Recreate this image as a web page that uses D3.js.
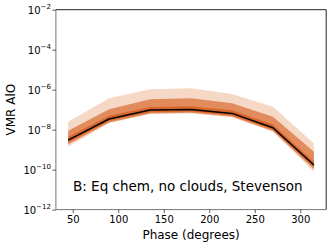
<!DOCTYPE html>
<html>
<head>
<meta charset="utf-8">
<script src="https://cdn.jsdelivr.net/npm/d3@7"></script>
<style>
  html, body { margin: 0; padding: 0; background: #fff; }
  svg { display: block; font-family: "DejaVu Sans", sans-serif; }
</style>
</head>
<body>
<svg id="chart" width="332" height="247"></svg>
<script>
// ---- data ----
const phases = [45, 90, 135, 180, 225, 270, 315];
const median = [3.0e-9, 3.4e-8, 9.5e-8, 1.03e-7, 6.5e-8, 1.24e-8, 1.7e-10];
const upper3 = [2.5e-8, 3.7e-7, 1.04e-6, 1.16e-6, 6.0e-7, 1.4e-7, 2.05e-9];
const upper2 = [8.8e-9, 1.04e-7, 3.3e-7, 3.7e-7, 2.07e-7, 4.4e-8, 7.8e-10];
const upper1 = [4.3e-9, 4.9e-8, 1.37e-7, 1.48e-7, 9.4e-8, 1.8e-8, 2.45e-10];
const lower1 = [2.3e-9, 2.7e-8, 7.5e-8, 8.1e-8, 5.1e-8, 9.8e-9, 1.3e-10];
const lower2 = [1.85e-9, 2.3e-8, 6.5e-8, 7.0e-8, 4.5e-8, 8.5e-9, 1.05e-10];
const lower3 = [1.4e-9, 2.06e-8, 6.0e-8, 6.5e-8, 4.1e-8, 7.8e-9, 7.8e-11];
const xTicks = [50, 100, 150, 200, 250, 300];
const yTickExps = [-2, -4, -6, -8, -10, -12];
const annotation = "B: Eq chem, no clouds, Stevenson";
const xLabel = "Phase (degrees)";
const yLabel = "VMR AlO";

// ---- layout ----
const pL = 55.9, pR = 326.2, pT = 9.7, pB = 209.6;
const svg = d3.select("#chart");

const x = d3.scaleLinear().domain([31.5, 328.5]).range([pL, pR]);
const y = d3.scaleLog().domain([1e-12, 1e-2]).range([pB, pT]);

const idx = d3.range(phases.length);
const band = (lo, hi) => d3.area()
  .x(i => x(phases[i]))
  .y0(i => y(lo[i]))
  .y1(i => y(hi[i]));

svg.append("path").attr("d", band(lower3, upper3)(idx)).attr("fill", "#f6d8c6");
svg.append("path").attr("d", band(lower2, upper2)(idx)).attr("fill", "#e28c5d");
svg.append("path").attr("d", band(lower1, upper1)(idx)).attr("fill", "#d8662c");

svg.append("path")
  .attr("d", d3.line().x(i => x(phases[i])).y(i => y(median[i]))(idx))
  .attr("fill", "none").attr("stroke", "#000").attr("stroke-width", 1.5)
  .attr("stroke-linejoin", "round");

// ---- spines ----
svg.append("line").attr("x1", pL).attr("x2", pR).attr("y1", pT).attr("y2", pT)
  .attr("stroke", "#222").attr("stroke-width", 1);
svg.append("line").attr("x1", pR).attr("x2", pR).attr("y1", pT).attr("y2", pB)
  .attr("stroke", "#222").attr("stroke-width", 1);
svg.append("line").attr("x1", pL).attr("x2", pL).attr("y1", pT).attr("y2", pB)
  .attr("stroke", "#777").attr("stroke-width", 1);
svg.append("line").attr("x1", pL).attr("x2", pR).attr("y1", pB).attr("y2", pB)
  .attr("stroke", "#777").attr("stroke-width", 1);

// ---- x axis ----
const xAxis = d3.axisBottom(x).tickValues(xTicks).tickSize(3.5).tickPadding(3).tickFormat(d3.format("d"));
const gx = svg.append("g").attr("transform", `translate(0,${pB})`).call(xAxis);
gx.select(".domain").remove();
gx.selectAll(".tick line").attr("stroke", "#333").attr("stroke-width", 0.8);
gx.selectAll(".tick text").attr("fill", "#000").attr("font-size", 10)
  .attr("font-family", "DejaVu Sans, sans-serif");

// ---- y axis ----
const yAxis = d3.axisLeft(y).tickValues(yTickExps.map(e => Math.pow(10, e))).tickSize(3.5).tickPadding(3).tickFormat(() => "");
const gy = svg.append("g").attr("transform", `translate(${pL},0)`).call(yAxis);
gy.select(".domain").remove();
gy.selectAll(".tick line").attr("stroke", "#333").attr("stroke-width", 0.8);
gy.selectAll(".tick text").remove();
gy.selectAll(".tick").each(function(d) {
  const e = Math.round(Math.log10(d));
  const t = d3.select(this).append("text")
    .attr("x", -5).attr("y", 3.6)
    .attr("text-anchor", "end")
    .attr("font-size", 10).attr("fill", "#000")
    .attr("font-family", "DejaVu Sans, sans-serif");
  t.append("tspan").text("10");
  t.append("tspan").attr("dy", -4.5).attr("font-size", 7).text("\u2212" + Math.abs(e));
});

// ---- labels ----
svg.append("text").attr("x", (pL + pR) / 2).attr("y", 238.5)
  .attr("text-anchor", "middle").attr("font-size", 12).attr("fill", "#000").text(xLabel);
svg.append("text").attr("transform", `translate(15,${(pT + pB) / 2}) rotate(-90)`)
  .attr("text-anchor", "middle").attr("font-size", 12).attr("fill", "#000").text(yLabel);
svg.append("text").attr("x", 73).attr("y", 190.5)
  .attr("font-size", 13.5).attr("fill", "#000").text(annotation);
</script>
</body>
</html>
